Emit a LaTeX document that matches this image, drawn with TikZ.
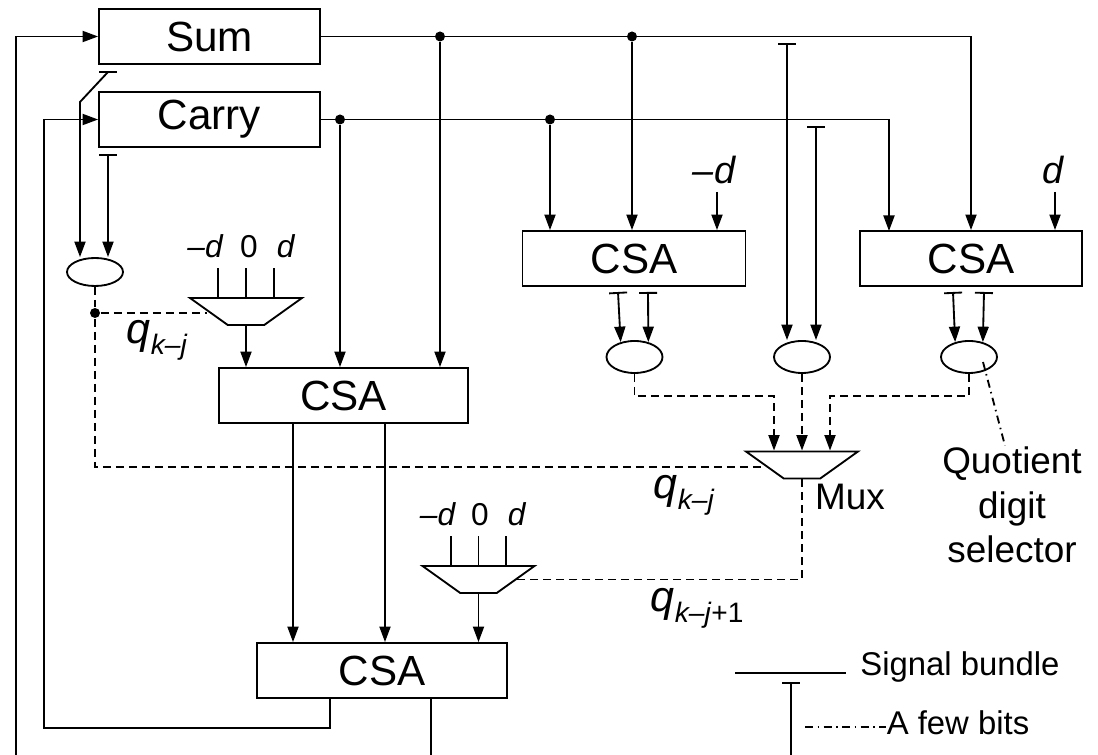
\documentclass[tikz,border=0pt]{standalone}
\usepackage{fontspec}
\setmainfont{Liberation Sans}
\usetikzlibrary{arrows.meta,shapes.geometric}
\newcommand{\qsub}[1]{\textit{q}\raisebox{-5.7pt}{\fontsize{16}{16}\selectfont #1}}
\begin{document}
\begin{tikzpicture}
        [line width=1.05pt, >={Triangle[length=3.1mm,width=2.2mm]},
         reg/.style={draw, minimum height=1.1cm, inner sep=0pt, font=\fontsize{24}{28}\selectfont},
         joint/.style={circle, fill, inner sep=0pt, minimum size=2mm},
         cmp/.style={ellipse, draw, inner sep=0pt, minimum width=1.12cm, minimum height=.64cm},
         sel/.style={trapezium, draw, shape border rotate=180, trapezium left angle=44, trapezium right angle=44,
                     trapezium stretches=true, inner sep=1pt, minimum width=2.24cm, minimum height=.54cm},
         tap/.style={{Bar[width=3.6mm]}->},
         tapend/.style={{Bar[width=3.6mm]}-},
         ctrl/.style={dash pattern=on 1.6mm off 1mm},
         few/.style={dash pattern=on 1.6mm off .9mm on .3mm off .9mm},
         lab/.style={inner sep=0pt, font=\fontsize{18}{22}\selectfont},
         labbig/.style={inner sep=0pt, font=\fontsize{21.5}{26}\selectfont},
         qlab/.style={inner sep=0pt, anchor=base west, font=\fontsize{24.5}{28}\selectfont},
         note/.style={inner sep=0pt, font=\fontsize{18.7}{24}\selectfont}]
            \useasboundingbox (0,0) rectangle (21.96,15.1);
            %registers
            \node[reg, minimum width=4.42cm] (sum) at (4.19,14.37) {Sum};
            \node[reg, minimum width=4.42cm] (carry) at (4.19,12.71) {Carry};
            %adders
            \node[reg, minimum width=4.46cm] (csaM) at (12.68,9.93) {CSA};
            \node[reg, minimum width=4.44cm] (csaR) at (19.42,9.93) {CSA};
            \node[reg, minimum width=4.98cm] (csaL) at (6.87,7.19) {CSA};
            \node[reg, minimum width=5cm] (csaB) at (7.64,1.69) {CSA};
            %digit selectors and mux
            \node[cmp, minimum height=.56cm] (ellA) at (1.9,9.66) {};
            \node[cmp] (ellL) at (12.69,7.96) {};
            \node[cmp] (ellM) at (16.04,7.96) {};
            \node[cmp] (ellR) at (19.38,7.96) {};
            \node[sel] (selA) at (4.92,8.87) {};
            \node[sel] (selB) at (9.57,3.51) {};
            \node[sel] (mux) at (16.04,5.8) {};
            %joints
            \node[joint] (dotSa) at (8.8,14.37) {};
            \node[joint] (dotSb) at (12.64,14.37) {};
            \node[joint] (dotCa) at (6.8,12.71) {};
            \node[joint] (dotCb) at (11,12.71) {};
            \node[joint] (dotQ) at (1.9,8.84) {};
            %free ends
            \coordinate (loopS) at (.32,0);
            \coordinate (loopCa) at (6.6,.54);
            \coordinate (loopCb) at (.88,.54);
            \coordinate (outB) at (8.62,0);
            \coordinate (inC) at (17.78,10.48);
            \coordinate (inMd) at (14.34,11.26);
            \coordinate (inRd) at (21.1,11.26);
            \coordinate (tapSa) at (2.16,13.66);
            \coordinate (bendS) at (1.6,13.06);
            \coordinate (tapC) at (2.16,12.02);
            \coordinate (tapMa) at (15.74,14.24);
            \coordinate (tapMb) at (16.32,12.58);
            \coordinate (tapLa) at (12.36,9.26);
            \coordinate (tapLb) at (12.96,9.26);
            \coordinate (tapRa) at (19.06,9.26);
            \coordinate (tapRb) at (19.68,9.26);
            \coordinate (dropA) at (5.86,6);
            \coordinate (dropB) at (7.7,6);
            \coordinate (muxInA) at (15.48,7.18);
            \coordinate (muxInB) at (16.6,7.18);
            %feedback lines
            \draw[->] (loopS) |- (sum.west);
            \draw[->] (csaB.south -| loopCa) -- (loopCa) -- (loopCb) |- (carry.west);
            \draw (csaB.south -| outB) -- (outB);
            %sum and carry buses
            \draw[->] (sum.east) -| (csaR.north);
            \draw[->] (carry.east) -| (inC);
            \draw[->] (dotSa) -- (dotSa |- csaL.north);
            \draw[->] (dotSb) -- (dotSb |- csaM.north);
            \draw[->] (dotCa) -- (dotCa |- csaL.north);
            \draw[->] (dotCb) -- (dotCb |- csaM.north);
            \draw[->] (inMd) -- (inMd |- csaM.north);
            \draw[->] (inRd) -- (inRd |- csaR.north);
            %bits taken to the selectors
            \draw ([xshift=-1.8mm]tapSa) -- ([xshift=1.8mm]tapSa);
            \draw[->] (tapSa) -- (bendS) -- (bendS |- ellA.north);
            \draw[tap] (tapC) -- (tapC |- ellA.north);
            \draw[tap] (tapMa) -- (tapMa |- ellM.north);
            \draw[tap] (tapMb) -- (tapMb |- ellM.north);
            \draw[tap] (tapLa) -- (ellL.133);
            \draw[tap] (tapLb) -- (ellL.47);
            \draw[tap] (tapRa) -- (ellR.133);
            \draw[tap] (tapRb) -- (ellR.47);
            %multiple selection
            \draw ([xshift=-5.6mm]selA.north) --++ (0,.58);
            \draw (selA.north) --++ (0,.58);
            \draw ([xshift=5.6mm]selA.north) --++ (0,.58);
            \draw ([xshift=-5.5mm]selB.north) --++ (0,.58);
            \draw (selB.north) --++ (0,.58);
            \draw ([xshift=5.5mm]selB.north) --++ (0,.58);
            \draw[->] (selA.south) -- (selA.south |- csaL.north);
            \draw[->] (selB.south) -- (selB.south |- csaB.north);
            \draw[->] (dropA |- csaL.south) -- (dropA |- csaB.north);
            \draw[->] (dropB |- csaL.south) -- (dropB |- csaB.north);
            %dashed selection signals
            \draw[ctrl] (ellA.south) -- (dotQ);
            \draw[ctrl] (dotQ) -- (dotQ -| selA.west);
            \draw[ctrl] (dotQ) |- ([yshift=-.4mm]mux.west);
            \draw[ctrl,->] (ellL.south) |- (muxInA) -- (muxInA |- mux.north);
            \draw[ctrl,->] (ellM.south) -- (mux.north);
            \draw[ctrl,->] (ellR.south) |- (muxInB) -- (muxInB |- mux.north);
            \draw[ctrl] (mux.south) |- (selB.east);
            %labels
            \node[lab] at (4.11,10.17) {\textit{--d}};
            \node[lab] at (4.98,10.17) {0};
            \node[lab] at (5.72,10.17) {\textit{d}};
            \node[lab] at (8.76,4.81) {\textit{--d}};
            \node[lab] at (9.6,4.81) {0};
            \node[lab] at (10.34,4.81) {\textit{d}};
            \node[labbig] at (14.29,11.7) {\textit{--d}};
            \node[labbig] at (21.07,11.7) {\textit{d}};
            \node[qlab] at (2.52,8.22) {\qsub{\textit{k--j}}};
            \node[qlab] at (13.06,5.12) {\qsub{\textit{k--j}}};
            \node[qlab] at (13,2.86) {\qsub{\textit{k--j}+1}};
            \node[labbig, font=\fontsize{21}{25}\selectfont] at (17,5.16) {Mux};
            \node[labbig, font=\fontsize{21}{25.5}\selectfont, align=center] (qds) at (20.24,5) {Quotient\\digit\\selector};
            \coordinate (qdsTip) at (19.66,7.86);
            \draw[few] (qdsTip) -- ([xshift=-1.4mm]qds.north);
            %legend
            \node[note] (bundle) at (19.2,1.76) {Signal bundle};
            \node[note] (fewbits) at (19.16,.64) {A few bits};
            \coordinate (legA) at (14.7,1.64);
            \coordinate (legB) at (16.92,1.64);
            \coordinate (legT) at (15.82,1.46);
            \coordinate (legF) at (16.1,.56);
            \draw (legA) -- (legB);
            \draw[tapend] (legT) -- (legT |- outB);
            \draw[few] (legF) -- (legF -| fewbits.west);
    \end{tikzpicture}
\end{document}
